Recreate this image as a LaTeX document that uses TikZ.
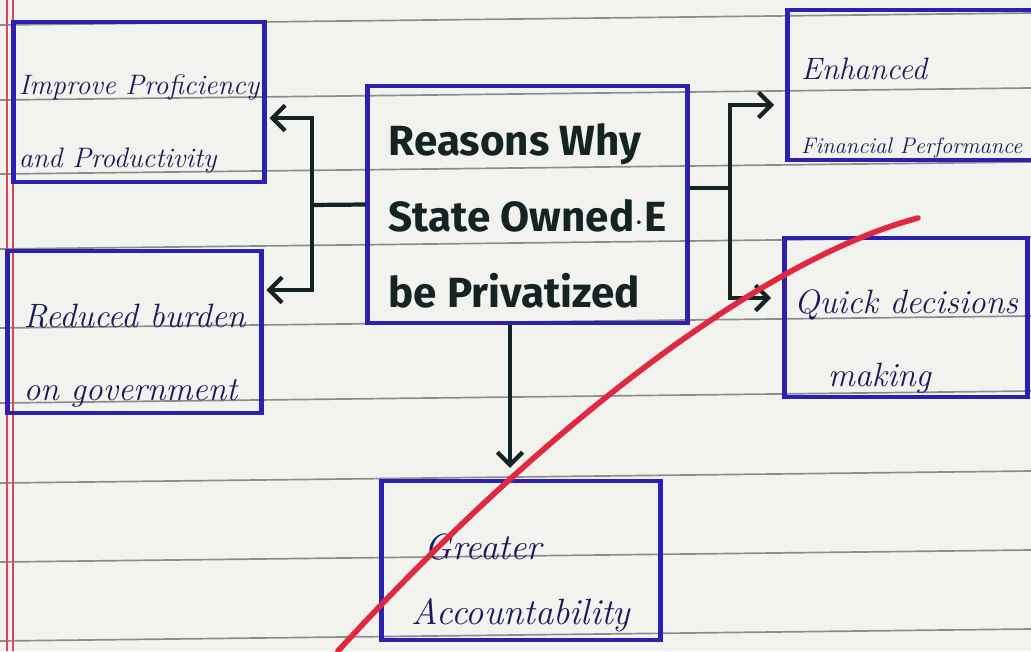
\documentclass[tikz,border=0pt]{standalone}
\usepackage{fontspec}
\newfontfamily\markfont{Fira Sans}
\usetikzlibrary{arrows.meta,calc}
\definecolor{paper}{HTML}{F2F2EE}
\definecolor{ruleline}{HTML}{8C8C8C}
\definecolor{marginred}{HTML}{D8485A}
\definecolor{boxblue}{HTML}{2A20B4}
\definecolor{inkblue}{HTML}{1C1A5C}
\definecolor{ink}{HTML}{142424}
\definecolor{redstroke}{HTML}{E0283F}
\newcommand{\lift}[1]{\rule{0pt}{#1}}
\begin{document}
\begin{tikzpicture}[x=0.025cm,y=-0.025cm,
  box/.style={draw=boxblue, line width=3pt, align=left, text=inkblue,
    font=\itshape\fontsize{20}{52}\selectfont, inner sep=0pt},
  titlebox/.style={draw=boxblue, line width=3pt, align=left, text=ink,
    font=\markfont\bfseries\fontsize{30}{54}\selectfont, inner sep=0pt},
  conn/.style={draw=ink, line width=3pt},
  arr/.style={conn, -{Straight Barb[length=9pt,width=18pt]}}]
\useasboundingbox (0,0) rectangle (1031,651);
\fill[paper] (0,0) rectangle (1031,651);
% ruled paper
\foreach \y in {25,100,174,249,328,403,483,562,641}
  \draw[ruleline, line width=1.2pt] (0,\y) -- (1031,\y-12);
\draw[marginred, line width=1pt] (7,0) -- (7,651);
\draw[marginred, line width=1pt] (13,0) -- (13,651);
% boxes
\node[box, minimum width=178.6pt, minimum height=113.4pt] (b1) at (139,102)
  {\lift{45pt}Improve Proficiency\\and Productivity};
\node[box, minimum width=180.7pt, minimum height=114.8pt,
  font=\itshape\fontsize{24}{52}\selectfont] (b2) at (134.5,332)
  {\lift{51pt}Reduced burden\\ on government};
\node[titlebox, minimum width=227.5pt, minimum height=168pt] (ctr) at (527.5,204.5)
  {\lift{39pt}Reasons Why\\State Owned$\cdot$E\\be Privatized};
\node[box, minimum width=182.8pt, minimum height=106.3pt,
  font=\itshape\fontsize{22}{52}\selectfont] (b3) at (916,85)
  {\lift{48pt}Enhanced\\{\fontsize{16}{52}\selectfont Financial Performance}\hspace*{6pt}};
\node[box, minimum width=172.9pt, minimum height=112.7pt,
  font=\itshape\fontsize{24}{52}\selectfont] (b4) at (906,317.5)
  {\lift{51pt}Quick decisions\\ \quad making};
\node[box, minimum width=198.4pt, minimum height=112.7pt,
  font=\itshape\fontsize{26}{46}\selectfont] (b5) at (521,560.5)
  {\lift{50pt}\ Greater\\Accountability};
% left connectors
\coordinate (jl) at (312,205);
\coordinate (jl1) at (312,118);
\coordinate (jl2) at (312,290);
\draw[conn] (ctr.west) -- (jl);
\draw[arr, shorten >=2pt] (jl) -- (jl1) -- (jl1 -| b1.east);
\draw[arr, shorten >=2pt] (jl) -- (jl2) -- (jl2 -| b2.east);
% right connectors
\coordinate (jr) at (730,188);
\coordinate (jr1) at (730,105);
\coordinate (jr2) at (730,298);
\draw[conn] (ctr.east |- jr) -- (jr);
\draw[arr, shorten >=8pt] (jr) -- (jr1) -- (jr1 -| b3.west);
\draw[arr, shorten >=8pt] (jr) -- (jr2) -- (jr2 -| b4.west);
% bottom connector
\coordinate (bx) at (510,0);
\draw[arr, shorten >=8pt] (ctr.south -| bx) -- (b5.north -| bx);
% red stroke
\draw[redstroke, line width=4pt, line cap=round]
  (338,651) .. controls (540,430) and (760,260) .. (918,218);
\end{tikzpicture}
\end{document}
